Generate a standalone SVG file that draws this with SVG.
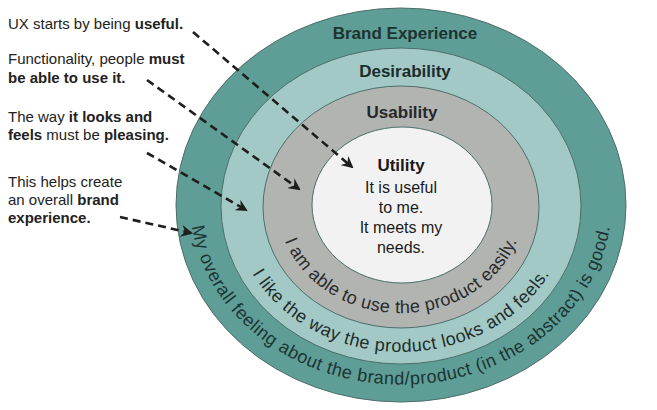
<svg xmlns="http://www.w3.org/2000/svg" width="657" height="410" viewBox="0 0 657 410">
<defs>
<style>
.lbl{font-family:"Liberation Sans",Arial,sans-serif;font-size:15px;fill:#222}
.b{font-weight:bold}
.title{font-family:"Liberation Sans",Arial,sans-serif;font-weight:bold;font-size:17px;text-anchor:middle}
.inner{font-family:"Liberation Sans",Arial,sans-serif;font-size:16px;fill:#1a1a1a;text-anchor:middle}
.curve{font-family:"Liberation Sans",Arial,sans-serif;font-size:18px;text-anchor:middle}
.ring{stroke:#4d6e6a;stroke-width:1}
.arrow{fill:none;stroke:#1e1e1e;stroke-width:2.6;stroke-dasharray:8 5}
</style>
<marker id="ah" viewBox="0 0 12 12" refX="10" refY="6" markerWidth="12" markerHeight="12" markerUnits="userSpaceOnUse" orient="auto">
<path d="M0,0 L12,6 L0,12 L4,6 Z" fill="#1e1e1e"/>
</marker>
<path id="pU" d="M 282.2,177.1 A 123,108 0 1 0 519.8,177.1"/>
<path id="pD" d="M 238.7,167 A 168,147 0 1 0 563.3,167"/>
<path id="pB" d="M 196.2,157.6 A 211,183 0 1 0 605.8,157.6"/>
</defs>
<rect width="657" height="410" fill="#ffffff"/>
<g id="brand">
<ellipse class="ring" cx="401" cy="205" rx="225" ry="197" fill="#5f9d97"/>
<text class="title" x="405" y="39" fill="#1c3431">Brand Experience</text>
</g>
<g id="desirability">
<ellipse class="ring" cx="401" cy="206" rx="180" ry="158" fill="#a2c9c5"/>
<text class="title" x="405" y="77" fill="#1c2c2b">Desirability</text>
</g>
<g id="usability">
<ellipse class="ring" cx="401" cy="207" rx="138" ry="121" fill="#b2b4b2"/>
<text class="title" x="402" y="118" fill="#262828">Usability</text>
</g>
<g id="utility">
<ellipse class="ring" cx="402" cy="205" rx="90" ry="78" fill="#f2f2f2"/>
<text class="title" x="401" y="171" fill="#1a1a1a">Utility</text>
<text class="inner" x="401" y="193">It is useful</text>
<text class="inner" x="401" y="213">to me.</text>
<text class="inner" x="401" y="233">It meets my</text>
<text class="inner" x="401" y="253">needs.</text>
</g>
<g id="ring-texts">
<text class="curve" fill="#2a2a2a" letter-spacing="0.33"><textPath href="#pU" startOffset="50%">I am able to use the product easily.</textPath></text>
<text class="curve" fill="#1f2d2c" letter-spacing="0.5"><textPath href="#pD" startOffset="50%">I like the way the product looks and feels.</textPath></text>
<text class="curve" fill="#1b3532" letter-spacing="0.5"><textPath href="#pB" startOffset="50%">My overall feeling about the brand/product (in the abstract) is good.</textPath></text>
</g>
<g id="notes">
<text class="lbl" x="8" y="29">UX starts by being <tspan class="b">useful.</tspan></text>
<text class="lbl" x="8" y="64">Functionality, people <tspan class="b">must</tspan></text>
<text class="lbl b" x="8" y="83">be able to use it.</text>
<text class="lbl" x="8" y="122">The way <tspan class="b">it looks and</tspan></text>
<text class="lbl" x="8" y="140"><tspan class="b">feels</tspan> must be <tspan class="b">pleasing.</tspan></text>
<text class="lbl" x="8" y="187">This helps create</text>
<text class="lbl" x="8" y="205">an overall <tspan class="b">brand</tspan></text>
<text class="lbl b" x="8" y="223">experience.</text>
</g>
<g id="connectors">
<line class="arrow" x1="193" y1="32" x2="352" y2="167" marker-end="url(#ah)"/>
<line class="arrow" x1="147" y1="80" x2="299" y2="189" marker-end="url(#ah)"/>
<line class="arrow" x1="147" y1="153" x2="246" y2="210" marker-end="url(#ah)"/>
<line class="arrow" x1="120" y1="217" x2="191" y2="233" marker-end="url(#ah)"/>
</g>
</svg>
